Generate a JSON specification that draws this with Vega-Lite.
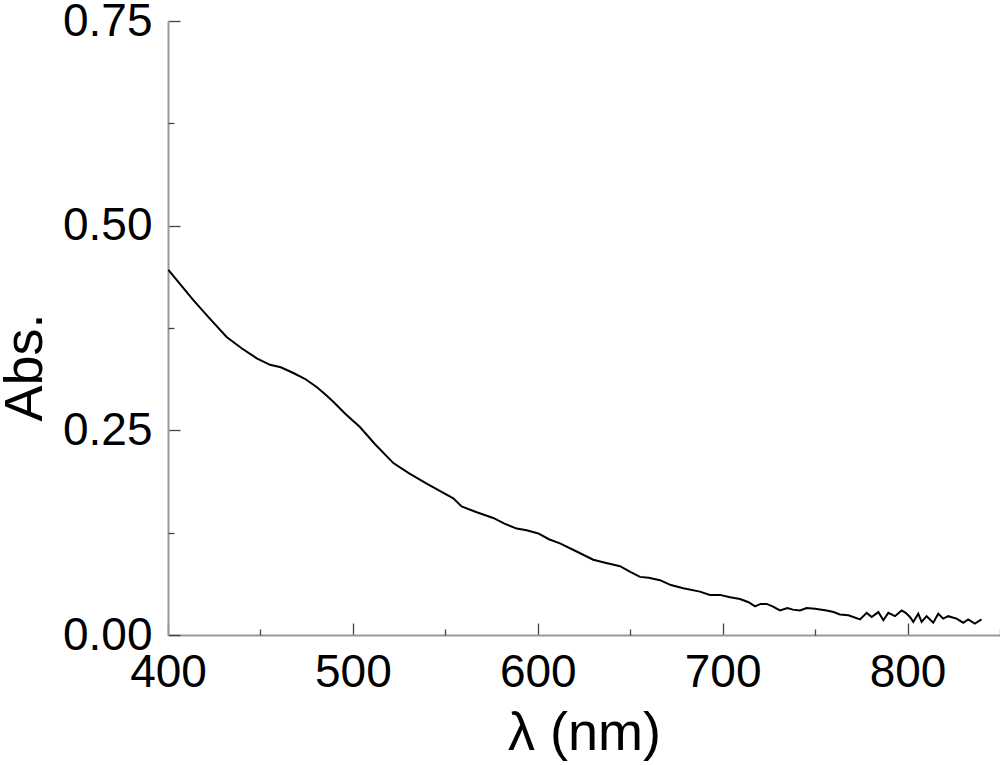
{
  "$schema": "https://vega.github.io/schema/vega-lite/v6.json",
  "width": 832,
  "height": 614,
  "autosize": "none",
  "padding": {"left": 168, "top": 21, "right": 0, "bottom": 130},
  "background": "white",
  "config": {
    "view": {"stroke": null},
    "axis": {
      "grid": false,
      "labelFont": "Liberation Sans",
      "titleFont": "Liberation Sans",
      "labelColor": "black",
      "titleColor": "black",
      "labelFontSize": 46,
      "titleFontSize": 54,
      "titleFontWeight": "normal",
      "domainColor": "#999999",
      "domainWidth": 2,
      "tickColor": "#444444",
      "tickWidth": 1.3
    }
  },
  "data": {
    "values": [
      {"wl": 400.2, "abs": 0.446},
      {"wl": 406, "abs": 0.430},
      {"wl": 413.7, "abs": 0.409},
      {"wl": 422, "abs": 0.388},
      {"wl": 431.7, "abs": 0.364},
      {"wl": 440, "abs": 0.350},
      {"wl": 448, "abs": 0.338},
      {"wl": 455.2, "abs": 0.330},
      {"wl": 461, "abs": 0.327},
      {"wl": 467.8, "abs": 0.320},
      {"wl": 474, "abs": 0.313},
      {"wl": 480.4, "abs": 0.303},
      {"wl": 485, "abs": 0.294},
      {"wl": 489.4, "abs": 0.285},
      {"wl": 496, "abs": 0.270},
      {"wl": 503.8, "abs": 0.254},
      {"wl": 512, "abs": 0.233},
      {"wl": 521.9, "abs": 0.210},
      {"wl": 530, "abs": 0.198},
      {"wl": 539.9, "abs": 0.185},
      {"wl": 547, "abs": 0.176},
      {"wl": 554.3, "abs": 0.167},
      {"wl": 558.8, "abs": 0.157},
      {"wl": 567, "abs": 0.150},
      {"wl": 575.9, "abs": 0.143},
      {"wl": 582, "abs": 0.136},
      {"wl": 588.6, "abs": 0.130},
      {"wl": 594, "abs": 0.128},
      {"wl": 600.3, "abs": 0.124},
      {"wl": 606, "abs": 0.117},
      {"wl": 612, "abs": 0.112},
      {"wl": 621, "abs": 0.102},
      {"wl": 630, "abs": 0.092},
      {"wl": 637, "abs": 0.088},
      {"wl": 644.5, "abs": 0.084},
      {"wl": 650, "abs": 0.077},
      {"wl": 655.3, "abs": 0.071},
      {"wl": 660, "abs": 0.070},
      {"wl": 666.1, "abs": 0.067},
      {"wl": 672, "abs": 0.061},
      {"wl": 678.7, "abs": 0.057},
      {"wl": 687.7, "abs": 0.053},
      {"wl": 693.1, "abs": 0.049},
      {"wl": 698.5, "abs": 0.049},
      {"wl": 704, "abs": 0.046},
      {"wl": 709.4, "abs": 0.044},
      {"wl": 714, "abs": 0.040},
      {"wl": 717.5, "abs": 0.035},
      {"wl": 720.5, "abs": 0.038},
      {"wl": 723.8, "abs": 0.038},
      {"wl": 727, "abs": 0.035},
      {"wl": 731, "abs": 0.030},
      {"wl": 735, "abs": 0.033},
      {"wl": 738, "abs": 0.031},
      {"wl": 741.8, "abs": 0.030},
      {"wl": 745.4, "abs": 0.033},
      {"wl": 750, "abs": 0.032},
      {"wl": 756.2, "abs": 0.030},
      {"wl": 760, "abs": 0.028},
      {"wl": 763.4, "abs": 0.025},
      {"wl": 768, "abs": 0.024},
      {"wl": 774.3, "abs": 0.019},
      {"wl": 777.9, "abs": 0.027},
      {"wl": 780.6, "abs": 0.022},
      {"wl": 784.2, "abs": 0.028},
      {"wl": 786.9, "abs": 0.018},
      {"wl": 789.6, "abs": 0.027},
      {"wl": 793.2, "abs": 0.023},
      {"wl": 796.8, "abs": 0.030},
      {"wl": 799, "abs": 0.027},
      {"wl": 801.3, "abs": 0.022},
      {"wl": 803.1, "abs": 0.016},
      {"wl": 805.8, "abs": 0.026},
      {"wl": 807.6, "abs": 0.016},
      {"wl": 810.3, "abs": 0.023},
      {"wl": 813.9, "abs": 0.015},
      {"wl": 816.6, "abs": 0.026},
      {"wl": 819.3, "abs": 0.020},
      {"wl": 822, "abs": 0.023},
      {"wl": 826.5, "abs": 0.020},
      {"wl": 830.1, "abs": 0.015},
      {"wl": 832.8, "abs": 0.019},
      {"wl": 836.4, "abs": 0.014},
      {"wl": 840, "abs": 0.019}
    ]
  },
  "layer": [
    {
      "mark": {"type": "line", "color": "black", "strokeWidth": 2},
      "encoding": {
        "x": {
          "field": "wl", "type": "quantitative",
          "scale": {"domain": [400, 850], "nice": false, "zero": false},
          "axis": {
            "title": "λ (nm)",
            "values": [400, 500, 600, 700, 800],
            "tickSize": -12,
            "labelPadding": 27,
            "titlePadding": 11,
            "labelFlush": false
          }
        },
        "y": {
          "field": "abs", "type": "quantitative",
          "scale": {"domain": [0, 0.75], "nice": false},
          "axis": {
            "title": "Abs.",
            "values": [0, 0.25, 0.5, 0.75],
            "format": ".2f",
            "tickSize": -12,
            "labelPadding": 28,
            "titlePadding": 10,
            "titleY": 346,
            "labelFlush": false
          }
        }
      }
    },
    {
      "mark": {"type": "line", "opacity": 0},
      "encoding": {
        "x": {
          "field": "wl", "type": "quantitative",
          "axis": {
            "orient": "bottom",
            "title": null,
            "labels": false,
            "domain": false,
            "values": [450, 550, 650, 750, 850],
            "tickSize": -6
          }
        },
        "y": {
          "field": "abs", "type": "quantitative",
          "axis": {
            "orient": "left",
            "title": null,
            "labels": false,
            "domain": false,
            "values": [0.125, 0.375, 0.625],
            "tickSize": -6
          }
        }
      }
    }
  ],
  "resolve": {"axis": {"x": "independent", "y": "independent"}}
}
